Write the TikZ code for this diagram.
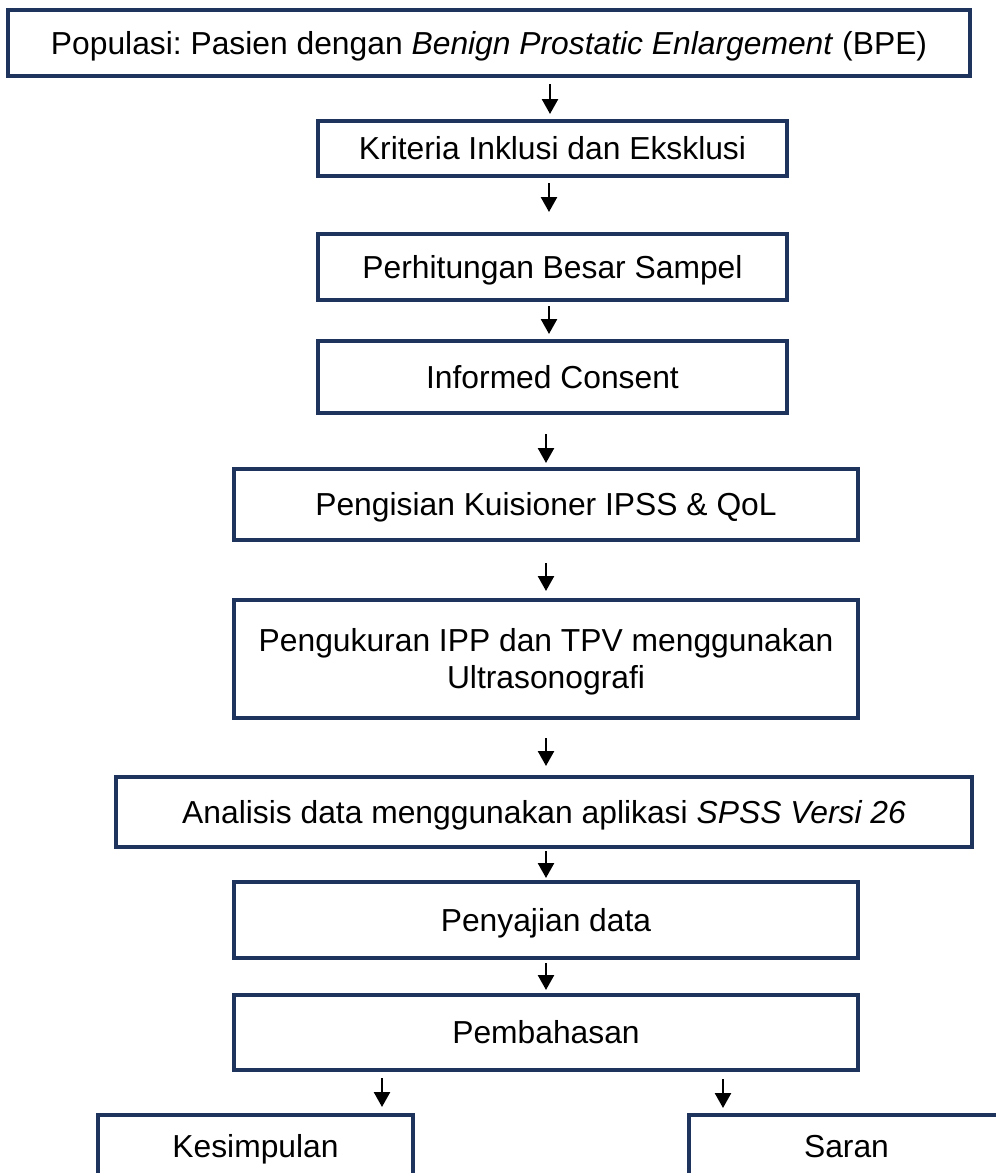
\documentclass[tikz,border=0pt]{standalone}
\usepackage{fontspec}
\setmainfont{Liberation Sans}
\usetikzlibrary{arrows.meta}
\definecolor{navy}{RGB}{31,52,92}
\frenchspacing
\begin{document}
\begin{tikzpicture}[x=1pt,y=-1pt,
  box/.style={draw=navy, line width=4pt, rectangle, inner sep=0pt, outer sep=0pt,
    text height=22.8pt, text depth=0pt, align=center, font=\fontsize{31.8}{37}\selectfont},
  arr/.style={line width=2.5pt, -{Triangle[width=16pt,length=15pt]}}]
\useasboundingbox (0,0) rectangle (996,1173);
\node[box, minimum width=962pt, minimum height=66pt] (pop) at (489,43)
  {Populasi: Pasien dengan \textit{Benign Prostatic Enlargement} (BPE)};
\node[box, minimum width=469pt, minimum height=55pt] (krit) at (552.5,148.5)
  {Kriteria Inklusi dan Eksklusi};
\node[box, minimum width=469pt, minimum height=66pt] (hit) at (552.5,267)
  {Perhitungan Besar Sampel};
\node[box, minimum width=469pt, minimum height=72pt] (ic) at (552.5,377)
  {Informed Consent};
\node[box, minimum width=624pt, minimum height=71pt] (kuis) at (546,504.5)
  {Pengisian Kuisioner IPSS \& QoL};
\node[box, minimum width=624pt, minimum height=118pt, text height=59.8pt, text depth=0pt] (ukur) at (546,659)
  {Pengukuran IPP dan TPV menggunakan\\Ultrasonografi};
\node[box, minimum width=856pt, minimum height=70pt] (anal) at (544,812)
  {Analisis data menggunakan aplikasi \textit{SPSS Versi 26}};
\node[box, minimum width=624pt, minimum height=76pt] (saji) at (546,920)
  {Penyajian data};
\node[box, minimum width=624pt, minimum height=75pt] (bahas) at (546,1032.5)
  {Pembahasan};
\node[box, minimum width=315pt, minimum height=62pt] (kes) at (255.5,1146)
  {Kesimpulan};
\node[box, minimum width=315pt, minimum height=62pt] (saran) at (846.5,1146)
  {Saran};
\coordinate (a1) at (550,0);
\coordinate (a2) at (549,0);
\coordinate (a3) at (549,0);
\coordinate (a4) at (546,0);
\coordinate (a9) at (382,0);
\coordinate (a10) at (723,0);
\draw[arr, shorten <=8pt, shorten >=7pt] (pop.south -| a1) -- (krit.north -| a1);
\draw[arr, shorten <=7pt, shorten >=22pt] (krit.south -| a2) -- (hit.north -| a2);
\draw[arr, shorten <=6pt, shorten >=7pt] (hit.south -| a3) -- (ic.north -| a3);
\draw[arr, shorten <=21pt, shorten >=6pt] (ic.south -| a4) -- (kuis.north -| a4);
\draw[arr, shorten <=23pt, shorten >=9pt] (kuis.south -| a4) -- (ukur.north -| a4);
\draw[arr, shorten <=20pt, shorten >=11pt] (ukur.south -| a4) -- (anal.north -| a4);
\draw[arr, shorten <=4pt, shorten >=4pt] (anal.south -| a4) -- (saji.north -| a4);
\draw[arr, shorten <=5pt, shorten >=5pt] (saji.south -| a4) -- (bahas.north -| a4);
\draw[arr, shorten <=8pt, shorten >=8pt] (bahas.south -| a9) -- (kes.north -| a9);
\draw[arr, shorten <=9pt, shorten >=7pt] (bahas.south -| a10) -- (saran.north -| a10);
\end{tikzpicture}
\end{document}
